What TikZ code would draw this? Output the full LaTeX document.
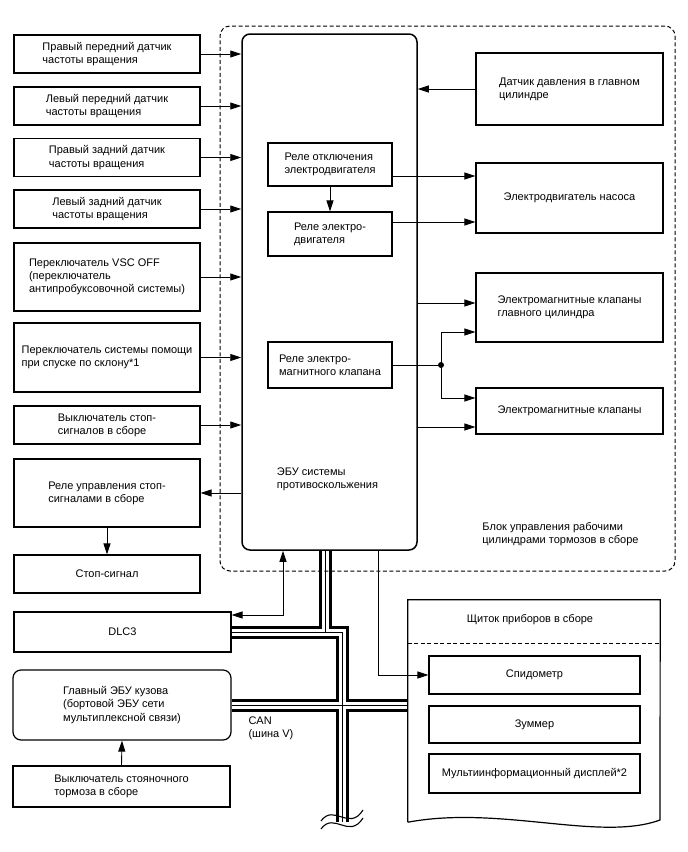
\documentclass[tikz,border=0pt]{standalone}
\usepackage{fontspec}
\setmainfont{Liberation Sans}
\usetikzlibrary{arrows.meta,backgrounds}

\begin{document}
\begin{tikzpicture}[
  x=1pt, y=-1pt,
  font=\fontsize{11}{13.2}\selectfont,
  box/.style={draw, line width=1.2pt, align=left, inner sep=2pt},
  sidebox/.style={box, minimum width=186pt, minimum height=38pt},
  relay/.style={box, minimum width=124pt, minimum height=44pt},
  outbox/.style={box, minimum width=187pt},
  gauge/.style={box, minimum width=211pt, minimum height=38pt},
  arr/.style={-{Triangle[length=11pt,width=7pt]}, line width=0.9pt},
  border/.style={draw, dash pattern=on 4pt off 2.5pt, line width=1pt}
]
\useasboundingbox (0,0) rectangle (688,852);

\node[sidebox] (rfs) at (107,54) {Правый передний датчик\\частоты вращения};
\node[sidebox] (lfs) at (107,106) {Левый передний датчик\\частоты вращения};
\node[sidebox] (rrs) at (107,157.5) {Правый задний датчик\\частоты вращения};
\node[sidebox] (lrs) at (107,209) {Левый задний датчик\\частоты вращения};
\node[sidebox, minimum height=68pt] (vscoff) at (107,277) {Переключатель VSC OFF\\(переключатель\\антипробуксовочной системы)};
\node[sidebox, minimum height=69pt] (dac) at (107,357.5) {Переключатель системы помощи\\при спуске по склону*1};
\node[sidebox] (stopsw) at (107,425) {Выключатель стоп-\\сигналов в сборе};
\node[sidebox, minimum height=68pt] (stoprelay) at (107,493) {Реле управления стоп-\\сигналами в сборе};
\node[sidebox] (stoplamp) at (107,574) {Стоп-сигнал};

\node[border, rounded corners=10pt, minimum width=455pt, minimum height=545pt] (hcu) at (447.5,298.5) {};
\node[draw, line width=1.5pt, rounded corners=8pt, minimum width=175pt, minimum height=516pt] (ecu) at (329.5,292) {};
\node[align=left] (ecutxt) at (327.5,479.5) {ЭБУ системы\\противоскольжения};
\node[align=left] (hcutxt) at (560.5,534) {Блок управления рабочими\\цилиндрами тормозов в сборе};

\node[relay, minimum height=43pt] (cutrelay) at (330,164.5) {Реле отключения\\электродвигателя};
\node[relay] (motrelay) at (330,234) {Реле электро-\\двигателя};
\node[relay, minimum height=46pt] (solrelay) at (330,365) {Реле электро-\\магнитного клапана};

\node[outbox, minimum height=72pt] (mcs) at (569.5,89) {Датчик давления в главном\\цилиндре};
\node[outbox, minimum height=70pt] (pump) at (569.5,198) {Электродвигатель насоса};
\node[outbox, minimum height=69pt] (mcv) at (569.5,307.5) {Электромагнитные клапаны\\главного цилиндра};
\node[outbox, minimum height=46pt] (sv) at (569.5,411) {Электромагнитные клапаны};

\node[box, minimum width=217pt, minimum height=40pt] (dlc) at (122.5,632) {DLC3};
\node[box, rounded corners=8pt, minimum width=218pt, minimum height=70pt] (bcm) at (122,705) {Главный ЭБУ кузова\\(бортовой ЭБУ сети\\мультиплексной связи)};
\node[box, minimum width=217pt, minimum height=41pt] (pkb) at (121.5,786.5) {Выключатель стояночного\\тормоза в сборе};
\node[align=left, anchor=west] (canlbl) at (245,728) {CAN\\(шина V)};

\node[minimum width=252pt, minimum height=222pt, inner sep=0pt] (meter) at (534,711) {};
\draw[line width=1.2pt] (meter.south west) -- (meter.north west) -- (meter.north east) -- (660,820)
  .. controls (600,842) and (500,805) .. (meter.south west);
\node (metertitle) at (530,620) {Щиток приборов в сборе};
\draw[dash pattern=on 4pt off 2.5pt, line width=1pt] (meter.west |- 0,643) -- (meter.east |- 0,643);
\node[gauge] (speedo) at (534.5,675) {Спидометр};
\node[gauge, minimum height=37pt] (buzzer) at (534.5,724.5) {Зуммер};
\node[gauge, minimum height=39pt] (mid) at (534.5,773.5) {Мультиинформационный дисплей*2};

\coordinate (busend) at (342,822);
\coordinate (jn) at (441,365);

\draw[arr] (rfs.east) -- (rfs.east -| ecu.west);
\draw[arr] (lfs.east) -- (lfs.east -| ecu.west);
\draw[arr] (rrs.east) -- (rrs.east -| ecu.west);
\draw[arr] (lrs.east) -- (lrs.east -| ecu.west);
\draw[arr] (vscoff.east) -- (vscoff.east -| ecu.west);
\draw[arr] (dac.east) -- (dac.east -| ecu.west);
\draw[arr] (stopsw.east) -- (stopsw.east -| ecu.west);
\draw[arr] (stoprelay.east -| ecu.west) -- (stoprelay.east);
\draw[arr] (stoprelay.south) -- (stoplamp.north);

\draw[arr] (mcs.west) -- (mcs.west -| ecu.east);
\draw[arr] (cutrelay.south) -- (motrelay.north);
\draw[arr] ([yshift=-11.5pt]cutrelay.east) -- ([yshift=-11.5pt]cutrelay.east -| pump.west);
\draw[arr] ([yshift=12pt]motrelay.east) -- ([yshift=12pt]motrelay.east -| pump.west);
\draw[arr] ([yshift=4.5pt]mcv.west -| ecu.east) -- ([yshift=4.5pt]mcv.west);
\draw[arr] ([yshift=-16pt]sv.west -| ecu.east) -- ([yshift=-16pt]sv.west);
\draw[line width=0.9pt] (solrelay.east) -- (jn);
\draw[arr] (jn) |- ([yshift=-24.5pt]mcv.west);
\draw[arr] (jn) |- ([yshift=13pt]sv.west);
\fill (jn) circle (3pt);

\draw[{Triangle[length=11pt,width=7pt]}-{Triangle[length=11pt,width=7pt]}, line width=0.9pt]
  ([xshift=-46.5pt]ecu.south) |- ([yshift=17pt]dlc.east);
\draw[arr] ([xshift=48.5pt]ecu.south) |- (speedo.west);
\draw[arr] (pkb.north) -- (bcm.south);

\begin{scope}[on background layer]
\draw[line width=13pt] ([xshift=-4.5pt]ecu.south) -- ([xshift=-4.5pt]ecu.south |- dlc.east)
  (dlc.east) -| (busend) (bcm.east) -- (bcm.east -| meter.west);
\draw[line width=7pt, white] ([xshift=-4.5pt]ecu.south) -- ([xshift=-4.5pt]ecu.south |- dlc.east)
  (dlc.east) -| (busend) (bcm.east) -- (bcm.east -| meter.west);
\draw[line width=1pt] ([xshift=-4.5pt]ecu.south) -- ([xshift=-4.5pt]ecu.south |- dlc.east)
  (dlc.east) -| (busend) (bcm.east) -- (bcm.east -| meter.west);
\end{scope}
\draw[line width=1.1pt] (321,821) .. controls (334,803) and (349,832) .. (363,810);
\draw[line width=1.1pt] (321,829) .. controls (334,811) and (349,840) .. (363,818);
\end{tikzpicture}
\end{document}
